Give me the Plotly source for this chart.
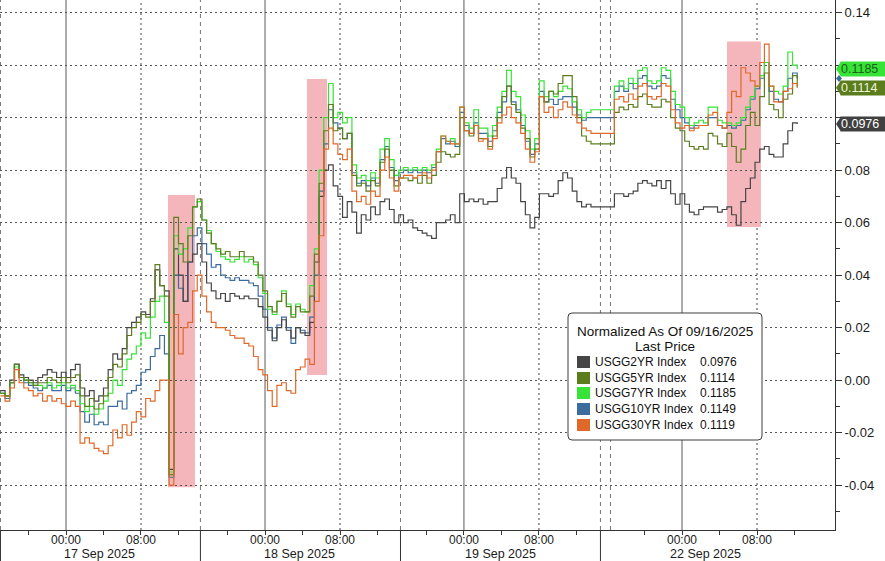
import numpy as np
import plotly.graph_objects as go

# ---------------- DATA ----------------
# compressed trading-time axis (hours; 0 = 17 Sep 00:00), weekend gap removed
times = list(np.arange(-7.0, 56.01, 0.5)) + list(np.arange(58.5, 78.01, 0.5))

usgg2 = [-0.004, -0.006, 0.000, 0.006, 0.002, 0.001, 0.000, -0.001, 0.001, 0.002, 0.004, 0.003, 0.001, 0.003, 0.001, 0.004, 0.006, -0.003, -0.006, -0.004, -0.008, -0.006, -0.003, 0.004, 0.010, 0.008, 0.012, 0.020, 0.022, 0.024, 0.026, 0.025, 0.031, 0.042, 0.036, 0.034,
         -0.034, 0.050, 0.040, 0.030, 0.045, 0.048, 0.052, 0.045, 0.037, 0.034, 0.031, 0.033, 0.030, 0.033, 0.032, 0.031, 0.032, 0.031, 0.031, 0.028, 0.024, 0.019, 0.015, 0.020, 0.023, 0.019, 0.016, 0.020, 0.018, 0.017, 0.022, 0.045, 0.070, 0.080,
         0.082, 0.074, 0.070, 0.062, 0.068, 0.064, 0.056, 0.063, 0.061, 0.066, 0.063, 0.068, 0.069, 0.065, 0.060, 0.063, 0.060, 0.061, 0.058, 0.057, 0.056, 0.055, 0.054, 0.060, 0.060, 0.061, 0.063, 0.060, 0.071,
         0.068, 0.069, 0.068, 0.069, 0.067, 0.068, 0.068, 0.073, 0.077, 0.081, 0.077, 0.075, 0.068, 0.063, 0.058, 0.062, 0.071, 0.071, 0.070, 0.071, 0.076, 0.079, 0.077, 0.072, 0.068, 0.066, 0.067, 0.066,
         0.071, 0.071, 0.070, 0.071, 0.072, 0.075, 0.076, 0.075, 0.074, 0.076, 0.073, 0.076, 0.071, 0.067, 0.071, 0.067, 0.064, 0.063, 0.065, 0.066, 0.066, 0.066, 0.064, 0.065, 0.066, 0.063, 0.059, 0.068, 0.073, 0.077, 0.083, 0.088, 0.089, 0.086, 0.085, 0.085, 0.090, 0.095, 0.098, 0.0976]

usgg5 = [-0.005, -0.006, -0.001, 0.006, 0.001, 0.000, -0.001, -0.002, -0.001, -0.001, 0.001, 0.000, -0.001, 0.001, -0.001, 0.001, 0.002, -0.006, -0.010, -0.007, -0.011, -0.009, -0.006, 0.001, 0.006, 0.005, 0.010, 0.017, 0.020, 0.022, 0.025, 0.024, 0.030, 0.044, 0.036, 0.032,
         -0.036, 0.062, 0.052, 0.045, 0.055, 0.066, 0.069, 0.061, 0.056, 0.052, 0.050, 0.048, 0.049, 0.047, 0.047, 0.049, 0.047, 0.047, 0.045, 0.040, 0.034, 0.028, 0.026, 0.030, 0.033, 0.028, 0.024, 0.028, 0.026, 0.026, 0.032, 0.048, 0.075, 0.095,
         0.105, 0.095, 0.096, 0.092, 0.094, 0.078, 0.074, 0.075, 0.072, 0.076, 0.074, 0.083, 0.088, 0.080, 0.074, 0.077, 0.077, 0.076, 0.077, 0.075, 0.078, 0.075, 0.078, 0.083, 0.087, 0.086, 0.085, 0.086, 0.100,
         0.095, 0.093, 0.097, 0.092, 0.092, 0.089, 0.093, 0.100, 0.108, 0.112, 0.105, 0.102, 0.096, 0.092, 0.085, 0.088, 0.108, 0.106, 0.110, 0.109, 0.113, 0.116, 0.116, 0.108, 0.100, 0.093, 0.091, 0.090,
         0.102, 0.104, 0.103, 0.105, 0.104, 0.108, 0.109, 0.105, 0.104, 0.104, 0.107, 0.106, 0.100, 0.096, 0.095, 0.091, 0.089, 0.088, 0.089, 0.088, 0.094, 0.093, 0.090, 0.089, 0.094, 0.089, 0.083, 0.088, 0.097, 0.102, 0.097, 0.108, 0.117, 0.105, 0.103, 0.100, 0.107, 0.109, 0.116, 0.1114]

usgg7 = [-0.005, -0.006, -0.001, 0.005, 0.001, 0.000, -0.001, -0.002, -0.002, -0.003, -0.001, -0.003, -0.002, -0.001, -0.003, -0.002, -0.004, -0.009, -0.012, -0.010, -0.013, -0.011, -0.008, -0.005, 0.000, -0.002, 0.004, 0.008, 0.010, 0.013, 0.018, 0.016, 0.024, 0.030, 0.032, 0.022,
         -0.035, 0.055, 0.048, 0.050, 0.058, 0.066, 0.068, 0.061, 0.057, 0.052, 0.049, 0.047, 0.046, 0.045, 0.046, 0.047, 0.045, 0.046, 0.044, 0.039, 0.033, 0.027, 0.025, 0.030, 0.034, 0.029, 0.025, 0.029, 0.027, 0.026, 0.036, 0.050, 0.080, 0.100,
         0.113, 0.100, 0.102, 0.098, 0.100, 0.082, 0.077, 0.078, 0.076, 0.079, 0.077, 0.088, 0.092, 0.084, 0.078, 0.080, 0.081, 0.080, 0.081, 0.080, 0.081, 0.080, 0.082, 0.088, 0.093, 0.091, 0.092, 0.090, 0.104,
         0.098, 0.096, 0.103, 0.096, 0.096, 0.093, 0.097, 0.104, 0.110, 0.118, 0.110, 0.108, 0.101, 0.095, 0.088, 0.092, 0.114, 0.108, 0.110, 0.108, 0.110, 0.112, 0.111, 0.106, 0.103, 0.100, 0.102, 0.103,
         0.112, 0.114, 0.111, 0.115, 0.113, 0.118, 0.119, 0.114, 0.113, 0.114, 0.119, 0.118, 0.110, 0.105, 0.104, 0.100, 0.097, 0.098, 0.099, 0.098, 0.104, 0.104, 0.099, 0.098, 0.098, 0.097, 0.098, 0.100, 0.104, 0.108, 0.112, 0.116, 0.121, 0.112, 0.110, 0.109, 0.112, 0.125, 0.120, 0.1185]

usgg10 = [-0.005, -0.007, -0.001, 0.006, 0.001, -0.001, -0.002, -0.003, -0.004, -0.003, -0.002, -0.004, -0.004, -0.002, -0.004, -0.003, -0.005, -0.012, -0.016, -0.013, -0.017, -0.016, -0.017, -0.010, -0.010, -0.008, -0.011, -0.005, -0.004, -0.002, 0.003, 0.004, 0.009, 0.012, 0.017, 0.010,
          -0.037, 0.040, 0.035, 0.030, 0.045, 0.055, 0.058, 0.052, 0.048, 0.043, 0.044, 0.040, 0.039, 0.038, 0.039, 0.038, 0.038, 0.037, 0.036, 0.032, 0.027, 0.020, 0.016, 0.021, 0.024, 0.020, 0.014, 0.020, 0.019, 0.018, 0.024, 0.040, 0.072, 0.090,
          0.103, 0.098, 0.096, 0.092, 0.094, 0.079, 0.075, 0.076, 0.074, 0.077, 0.075, 0.084, 0.089, 0.081, 0.076, 0.079, 0.080, 0.079, 0.080, 0.079, 0.080, 0.079, 0.081, 0.087, 0.092, 0.090, 0.091, 0.089, 0.102,
          0.097, 0.094, 0.098, 0.094, 0.094, 0.091, 0.095, 0.102, 0.106, 0.112, 0.106, 0.103, 0.097, 0.091, 0.086, 0.090, 0.110, 0.106, 0.107, 0.105, 0.107, 0.108, 0.108, 0.104, 0.101, 0.099, 0.100, 0.100,
          0.110, 0.112, 0.110, 0.113, 0.111, 0.115, 0.116, 0.112, 0.111, 0.112, 0.116, 0.115, 0.107, 0.103, 0.100, 0.098, 0.096, 0.097, 0.097, 0.097, 0.100, 0.100, 0.097, 0.096, 0.097, 0.096, 0.097, 0.099, 0.103, 0.107, 0.111, 0.115, 0.121, 0.110, 0.107, 0.106, 0.110, 0.115, 0.117, 0.1149]

usgg30 = [-0.006, -0.008, -0.003, 0.004, -0.001, -0.003, -0.004, -0.006, -0.005, -0.008, -0.006, -0.008, -0.007, -0.009, -0.010, -0.008, -0.010, -0.024, -0.022, -0.024, -0.026, -0.027, -0.028, -0.025, -0.019, -0.022, -0.017, -0.021, -0.016, -0.012, -0.014, -0.007, -0.008, -0.004, 0.000, 0.000,
          -0.040, 0.025, 0.010, 0.020, 0.022, 0.034, 0.040, 0.032, 0.026, 0.022, 0.020, 0.020, 0.019, 0.017, 0.016, 0.016, 0.014, 0.013, 0.009, 0.004, 0.002, -0.004, -0.010, -0.002, -0.001, -0.004, -0.005, 0.004, 0.005, 0.008, 0.006, 0.030, 0.055, 0.088,
          0.096, 0.090, 0.086, 0.084, 0.088, 0.072, 0.068, 0.070, 0.067, 0.072, 0.070, 0.080, 0.085, 0.077, 0.072, 0.077, 0.078, 0.078, 0.077, 0.078, 0.079, 0.077, 0.080, 0.087, 0.093, 0.091, 0.090, 0.090, 0.104,
          0.095, 0.094, 0.097, 0.091, 0.092, 0.088, 0.092, 0.098, 0.101, 0.104, 0.100, 0.098, 0.094, 0.088, 0.083, 0.087, 0.108, 0.102, 0.104, 0.100, 0.103, 0.106, 0.104, 0.101, 0.098, 0.096, 0.095, 0.094,
          0.107, 0.108, 0.106, 0.109, 0.107, 0.112, 0.113, 0.108, 0.107, 0.108, 0.113, 0.112, 0.103, 0.098, 0.096, 0.097, 0.095, 0.096, 0.097, 0.097, 0.101, 0.102, 0.097, 0.096, 0.102, 0.110, 0.108, 0.119, 0.117, 0.114, 0.112, 0.121, 0.128, 0.112, 0.106, 0.106, 0.110, 0.111, 0.113, 0.1119]

series_names = ["USGG2YR Index", "USGG5YR Index", "USGG7YR Index", "USGG10YR Index", "USGG30YR Index"]
series_values = [usgg2, usgg5, usgg7, usgg10, usgg30]
last_prices = [0.0976, 0.1114, 0.1185, 0.1149, 0.1119]
colors = ["#454545", "#5b7d1e", "#36e336", "#3b6c9c", "#e0692a"]

y_tickvals = [-0.04, -0.02, 0.00, 0.02, 0.04, 0.06, 0.08, 0.10, 0.12, 0.14]
y_hidden = [0.10, 0.12]   # covered by the last-price tags
midnight_ticks = [0, 21.23, 42.45, 65.71]
morning_ticks = [8, 29.23, 50.45, 73.71]
tick_labels = ["00:00", "08:00"]
day_bounds = [-7.04, 14.29, 35.63, 56.96, 58.03]
day_labels = ["17 Sep 2025", "18 Sep 2025", "19 Sep 2025", "22 Sep 2025"]
day_label_pos = [3.6, 24.9, 46.3, 68.2]
highlight_x = [(10.88, 13.76), (25.71, 27.84), (70.51, 74.13)]
highlight_y = [(-0.0408, 0.0705), (0.0019, 0.1147), (0.0583, 0.129)]

# ---------------- FIGURE ----------------
W, H = 885, 561
ML, MR, MT, MB = 0, 50, 0, 31
PW, PH = W - ML - MR, H - MT - MB
FONT = "Liberation Sans, Arial, sans-serif"

def px_x(p):
    return p / PW

def px_y(p):
    return (PH - p) / PH

fig = go.Figure()
draw_order = [3, 0, 2, 1, 4]
for i in draw_order:
    fig.add_trace(go.Scatter(x=times, y=series_values[i], mode="lines", name=series_names[i],
                             line=dict(color=colors[i], width=1.2, shape="hv"), showlegend=False,
                             hoverinfo="skip"))

shapes = []
for (x0, x1), (y0, y1) in zip(highlight_x, highlight_y):
    shapes.append(dict(type="rect", xref="x", yref="y", x0=x0, x1=x1, y0=y0, y1=y1,
                       fillcolor="#f5b6bb", line=dict(width=0), layer="below"))
for xv in midnight_ticks:
    shapes.append(dict(type="line", xref="x", yref="paper", x0=xv, x1=xv, y0=0, y1=1,
                       line=dict(color="#5a5a5a", width=1), layer="below"))
for xv in morning_ticks:
    shapes.append(dict(type="line", xref="x", yref="paper", x0=xv, x1=xv, y0=0, y1=1,
                       line=dict(color="#444", width=1, dash="2px,3px"), layer="below"))
for xv in day_bounds:
    shapes.append(dict(type="line", xref="x", yref="paper", x0=xv + 0.05, x1=xv + 0.05, y0=0, y1=1,
                       line=dict(color="#777", width=1, dash="4px,4px"), layer="below"))
for xv in day_bounds[:4]:
    shapes.append(dict(type="line", xref="x", yref="paper", x0=xv + 0.05, x1=xv + 0.05,
                       y0=-MB / PH, y1=0, line=dict(color="#333", width=1)))

# legend box
lx0, lx1, ly0, ly1 = 568, 762, 313, 440
r = 4
path = (f"M {px_x(lx0 + r)},{px_y(ly0)} L {px_x(lx1 - r)},{px_y(ly0)} "
        f"Q {px_x(lx1)},{px_y(ly0)} {px_x(lx1)},{px_y(ly0 + r)} "
        f"L {px_x(lx1)},{px_y(ly1 - r)} Q {px_x(lx1)},{px_y(ly1)} {px_x(lx1 - r)},{px_y(ly1)} "
        f"L {px_x(lx0 + r)},{px_y(ly1)} Q {px_x(lx0)},{px_y(ly1)} {px_x(lx0)},{px_y(ly1 - r)} "
        f"L {px_x(lx0)},{px_y(ly0 + r)} Q {px_x(lx0)},{px_y(ly0)} {px_x(lx0 + r)},{px_y(ly0)} Z")
shapes.append(dict(type="path", xref="paper", yref="paper", path=path, fillcolor="white",
                   line=dict(color="#3c3c3c", width=1), layer="above"))

LEG_FONT = dict(family=FONT, size=12, color="#111")
annotations = []
annotations.append(dict(xref="paper", yref="paper", x=px_x(665), y=px_y(331), text="Normalized As Of 09/16/2025",
                        showarrow=False, xanchor="center", yanchor="middle", font=dict(family=FONT, size=13.5, color="#111")))
annotations.append(dict(xref="paper", yref="paper", x=px_x(665), y=px_y(346), text="Last Price",
                        showarrow=False, xanchor="center", yanchor="middle", font=dict(family=FONT, size=13.5, color="#111")))
row_y = [362, 378, 393, 409, 425]
for i, ry in enumerate(row_y):
    shapes.append(dict(type="rect", xref="paper", yref="paper", x0=px_x(577), x1=px_x(590),
                       y0=px_y(ry + 6), y1=px_y(ry - 6), fillcolor=colors[i], line=dict(width=0),
                       layer="above"))
    annotations.append(dict(xref="paper", yref="paper", x=px_x(593), y=px_y(ry), text=series_names[i],
                            showarrow=False, xanchor="left", yanchor="middle", font=LEG_FONT))
    annotations.append(dict(xref="paper", yref="paper", x=px_x(698), y=px_y(ry), text=f"{last_prices[i]:.4f}",
                            showarrow=False, xanchor="left", yanchor="middle", font=LEG_FONT))

# time-of-day labels and day labels under the axis
all_ticks = sorted(midnight_ticks + morning_ticks)
for xv, lab in zip(all_ticks, tick_labels * 4):
    annotations.append(dict(xref="x", yref="paper", x=xv, y=px_y(539.5), text=lab, showarrow=False,
                            xanchor="center", yanchor="middle",
                            font=dict(family=FONT, size=12, color="#1a1a1a")))
for lab, xv in zip(day_labels, day_label_pos):
    annotations.append(dict(xref="x", yref="paper", x=xv, y=px_y(554), text=lab, showarrow=False,
                            xanchor="center", yanchor="middle",
                            font=dict(family=FONT, size=12.5, color="#1a1a1a")))

# last-price tags on the right axis
tag_style = {0: ("#404040", "#ffffff"), 1: ("#5b7d1e", "#eef5d8"), 2: ("#36e336", "#1d5e1d")}
shapes.append(dict(type="path", xref="paper", yref="y", xsizemode="pixel", ysizemode="pixel",
                   xanchor=1, yanchor=last_prices[3], path="M 1,0 L 4,3.5 L 7,0 L 4,-3.5 Z",
                   fillcolor=colors[3], line=dict(width=0), layer="above"))
for i in [0, 1, 2]:
    bg, fg = tag_style[i]
    shapes.append(dict(type="path", xref="paper", yref="y", xsizemode="pixel", ysizemode="pixel",
                       xanchor=1, yanchor=last_prices[i], path="M 1,0 L 6,7.5 L 6,-7.5 Z",
                       fillcolor=bg, line=dict(width=0), layer="above"))
    annotations.append(dict(xref="paper", yref="y", x=1, y=last_prices[i], xanchor="left", yanchor="middle",
                            xshift=5, text=f"{last_prices[i]:.4f}", showarrow=False, bgcolor=bg,
                            width=46, height=14, borderpad=0, align="left",
                            font=dict(family=FONT, size=12.5, color=fg)))

y_ticktext = ["" if any(abs(v - h) < 1e-9 for h in y_hidden) else f"{v:.2f}" for v in y_tickvals]

fig.update_layout(
    width=W, height=H,
    margin=dict(l=ML, r=MR, t=MT, b=MB),
    paper_bgcolor="white", plot_bgcolor="white",
    shapes=shapes, annotations=annotations,
    xaxis=dict(range=[-7.04, 82.03], showgrid=False, zeroline=False, showline=True,
               linecolor="#333", linewidth=1, tickvals=all_ticks, showticklabels=False,
               ticks="outside", ticklen=4, tickcolor="#333",
               minor=dict(tickvals=[m + d for m in midnight_ticks for d in (-4, 4, 12)],
                          ticks="outside", ticklen=4, tickcolor="#333")),
    yaxis=dict(range=[-0.0571, 0.1448], side="right", tickvals=y_tickvals, ticktext=y_ticktext,
               showgrid=True, gridcolor="#555", griddash="2px,3px", gridwidth=1, zeroline=False,
               showline=True, linecolor="#333", linewidth=1, ticks="outside", ticklen=6,
               tickcolor="#333", tickfont=dict(family=FONT, size=13, color="#1a1a1a"),
               minor=dict(dtick=0.01, tick0=0, ticks="outside", ticklen=4, tickcolor="#333", showgrid=False)),
)

fig.write_html("out.html", config={"displayModeBar": False},
               post_script="document.body.style.margin='0';document.body.style.overflow='hidden';")
